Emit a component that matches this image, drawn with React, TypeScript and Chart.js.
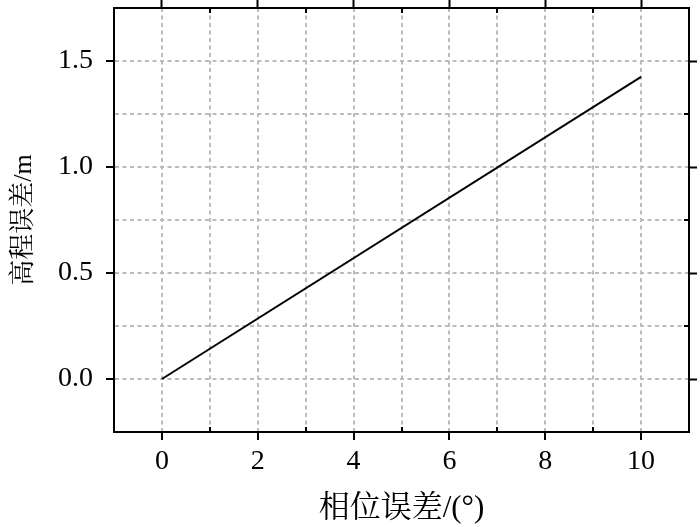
import React, { useEffect, useRef } from "react";
import { Chart, registerables } from "chart.js";

Chart.register(...registerables);

const phaseError: number[] = [0, 10];
const heightError: number[] = [0, 1.425];
const xMajorTicks: number[] = [0, 2, 4, 6, 8, 10];
const yMajorTicks: number[] = [0, 0.5, 1.0, 1.5];
const xMinorTicks: number[] = [1, 3, 5, 7, 9];
const yMinorTicks: number[] = [-0.25, 0.25, 0.75, 1.25];
const xTitle = "相位误差/(°)";
const yTitle = "高程误差/m";

const FONT = "'Liberation Serif', 'Noto Serif CJK SC', 'Noto Sans CJK SC', serif";

const isIn = (arr: number[], v: number) => arr.some((a) => Math.abs(a - v) < 1e-6);

const minorTickPlugin = {
  id: "minorTicks",
  afterDraw(chart: any) {
    const ctx = chart.ctx;
    const area = chart.chartArea;
    const xs = chart.scales.x;
    const ys = chart.scales.y;
    const len = 5;
    ctx.save();
    ctx.strokeStyle = "#000";
    ctx.lineWidth = 2;
    ctx.beginPath();
    xMinorTicks.forEach((v) => {
      const px = Math.round(xs.getPixelForValue(v));
      ctx.moveTo(px, area.bottom);
      ctx.lineTo(px, area.bottom - len);
      ctx.moveTo(px, area.top);
      ctx.lineTo(px, area.top + len);
    });
    yMinorTicks.forEach((v) => {
      const py = Math.round(ys.getPixelForValue(v));
      ctx.moveTo(area.right, py);
      ctx.lineTo(area.right - len, py);
    });
    ctx.stroke();
    ctx.restore();
  },
};

const noPad = (s: any) => {
  s.paddingTop = 0;
  s.paddingBottom = 0;
  s.paddingLeft = 0;
  s.paddingRight = 0;
};

export default function App() {
  const ref = useRef<HTMLCanvasElement | null>(null);
  useEffect(() => {
    if (!ref.current) return;
    const majorX = (c: any) => (c.tick && isIn(xMajorTicks, c.tick.value) ? "#000" : "rgba(0,0,0,0)");
    const majorY = (c: any) => (c.tick && isIn(yMajorTicks, c.tick.value) ? "#000" : "rgba(0,0,0,0)");
    const gridDash = { color: "#000", width: 2, dash: [4, 3.5] };
    const chart = new Chart(ref.current, {
      type: "line",
      data: {
        datasets: [
          {
            data: phaseError.map((x, i) => ({ x, y: heightError[i] })),
            borderColor: "#000",
            borderWidth: 2,
            pointRadius: 0,
            fill: false,
            tension: 0,
          },
        ],
      },
      plugins: [minorTickPlugin],
      options: {
        animation: false,
        responsive: false,
        layout: { padding: 0 },
        plugins: { legend: { display: false }, tooltip: { enabled: false } },
        scales: {
          x: {
            type: "linear",
            position: "bottom",
            min: -1,
            max: 11,
            afterFit: (s: any) => {
              s.height = 95;
              noPad(s);
            },
            ticks: {
              stepSize: 1,
              autoSkip: false,
              maxRotation: 0,
              padding: 5,
              color: "#000",
              font: { family: FONT, size: 28 },
              callback: (v: any) => (isIn(xMajorTicks, Number(v)) ? String(v) : ""),
            },
            grid: {
              color: "#bcbcbc",
              lineWidth: 2,
              tickColor: majorX,
              tickLength: 8,
              tickWidth: 2,
              tickBorderDash: [],
            },
            border: gridDash,
            title: {
              display: true,
              text: xTitle,
              color: "#000",
              font: { family: FONT, size: 31 },
              padding: { top: 0, bottom: 0 },
            },
          },
          x2: {
            type: "linear",
            position: "top",
            min: -1,
            max: 11,
            afterFit: (s: any) => {
              s.height = 8;
              noPad(s);
            },
            ticks: { stepSize: 1, autoSkip: false, display: false },
            grid: {
              drawOnChartArea: false,
              tickColor: majorX,
              tickLength: 8,
              tickWidth: 2,
            },
            border: { color: "#000", width: 2 },
          },
          y: {
            type: "linear",
            position: "left",
            min: -0.25,
            max: 1.75,
            afterFit: (s: any) => {
              s.width = 114;
              noPad(s);
            },
            ticks: {
              stepSize: 0.25,
              autoSkip: false,
              padding: 13,
              color: "#000",
              font: { family: FONT, size: 28 },
              callback: (v: any) => (isIn(yMajorTicks, Number(v)) ? Number(v).toFixed(1) : ""),
            },
            grid: {
              color: "#bcbcbc",
              lineWidth: 2,
              tickColor: majorY,
              tickLength: 8,
              tickWidth: 2,
              tickBorderDash: [],
            },
            border: gridDash,
            title: {
              display: true,
              text: yTitle,
              color: "#000",
              font: { family: FONT, size: 26 },
              padding: { top: 9, bottom: 0 },
            },
          },
          y2: {
            type: "linear",
            position: "right",
            min: -0.25,
            max: 1.75,
            afterFit: (s: any) => {
              s.width = 11;
              noPad(s);
            },
            ticks: { stepSize: 0.25, autoSkip: false, display: false },
            grid: {
              drawOnChartArea: false,
              tickColor: majorY,
              tickLength: 8,
              tickWidth: 2,
            },
            border: { color: "#000", width: 2 },
          },
        },
      },
    } as any);
    return () => chart.destroy();
  }, []);
  return (
    <div style={{ position: "fixed", left: 0, top: 0, width: 700, height: 527, background: "#fff" }}>
      <canvas ref={ref} width={700} height={527} style={{ width: 700, height: 527, display: "block" }} />
    </div>
  );
}
